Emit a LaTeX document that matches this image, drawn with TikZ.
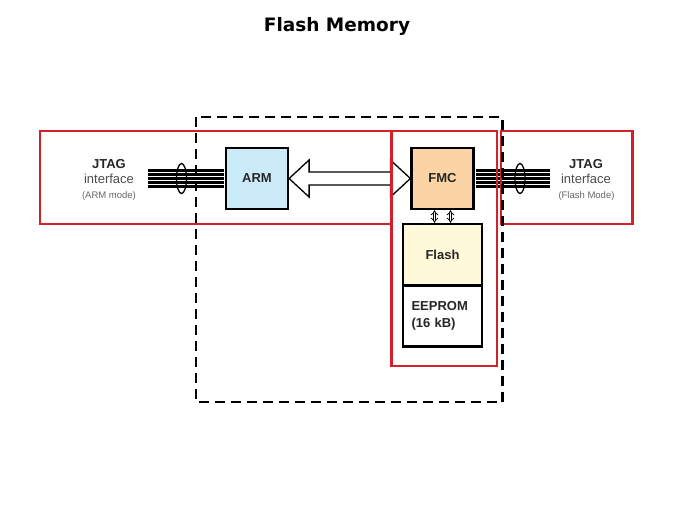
\documentclass[tikz,border=0pt]{standalone}
\usepackage{fontspec}
\setmainfont{Liberation Sans}
\newfontfamily\titlefont{DejaVu Sans}
\usetikzlibrary{positioning, calc, arrows.meta}
\definecolor{framered}{RGB}{212,32,40}
\definecolor{armblue}{RGB}{204,235,249}
\definecolor{fmcorange}{RGB}{251,211,164}
\definecolor{flashyellow}{RGB}{254,250,217}

\begin{document}
\begin{tikzpicture}[x=1pt, y=-1pt,
    blk/.style={draw=black, line width=2.2pt, minimum width=62pt, minimum height=61pt, inner sep=0pt, text=black!85, font=\bfseries\fontsize{13}{15}\selectfont},
    memblk/.style={blk, minimum width=79pt},
    frame/.style={draw=framered, line width=2.2pt},
    bus/.style={line width=2.2pt},
    lbl/.style={anchor=base, text=black!85, font=\fontsize{13}{15}\selectfont},
    ]
        \useasboundingbox (0,0) rectangle (674,506);

        \node[anchor=base, font=\titlefont\bfseries\fontsize{18.5}{22}\selectfont] (title) at (337,31.5) {Flash Memory};

        \node[blk, fill=armblue] (arm) at (257,178.5) {ARM};
        \node[blk, fill=fmcorange] (fmc) at (442.5,178.5) {FMC};
        \node[memblk, fill=flashyellow] (flash) at (442.5,254.5) {Flash};
        \node[memblk, fill=white, align=left, text width=62pt] (eeprom) at (442.5,316) {EEPROM\\[2pt](16 kB)};

        \coordinate (busL) at (148,178.5);
        \coordinate (busR) at (550,178.5);
        \foreach \d in {-8,-4,0,4,8} {
            \draw[bus] ($(busL)+(0,\d)$) -- ($(arm.west)+(-1,\d)$);
            \draw[bus] ($(fmc.east)+(1,\d)$) -- ($(busR)+(0,\d)$);
        }
        \draw[line width=1.3pt] (181.5,178.5) ellipse [x radius=5pt, y radius=15pt];
        \draw[line width=1.3pt] (520,178.5) ellipse [x radius=5pt, y radius=15pt];

        \draw[line width=1.3pt, fill=white, line join=miter] (arm.east) -- ++(20,-18.5) -- ++(0,12) -- ($(fmc.west)+(-20,-6.5)$) -- ++(0,-12) -- (fmc.west) -- ++(-20,18.5) -- ++(0,-12) -- ($(arm.east)+(20,6.5)$) -- ++(0,12) -- cycle;

        \draw[double, double distance=1.8pt, line width=0.8pt, {Implies}-{Implies}] ([xshift=-8pt]fmc.south) -- ([xshift=-8pt]fmc.south |- flash.north);
        \draw[double, double distance=1.8pt, line width=0.8pt, {Implies}-{Implies}] ([xshift=8pt]fmc.south) -- ([xshift=8pt]fmc.south |- flash.north);

        \node[lbl, font=\bfseries\fontsize{13}{15}\selectfont] (jtagA) at (109,168.5) {JTAG};
        \node[lbl, text=black!70] (ifaceA) at (109,183.7) {interface};
        \node[lbl, text=black!60, font=\fontsize{9.5}{11}\selectfont] (modeA) at (109,198.5) {(ARM mode)};
        \node[lbl, font=\bfseries\fontsize{13}{15}\selectfont] (jtagB) at (586,168.5) {JTAG};
        \node[lbl, text=black!70] (ifaceB) at (586,183.7) {interface};
        \node[lbl, text=black!60, font=\fontsize{9.5}{11}\selectfont] (modeB) at (586.5,198.5) {(Flash Mode)};

        \draw[frame] (40,131) rectangle (391.5,224);
        \draw[frame] (391.5,131) rectangle (497,366);
        \draw[frame] (501,131) rectangle (632.5,224);

        \draw[line width=2.2pt, dash pattern=on 10pt off 6pt] (196,117) rectangle (502.5,402);
\end{tikzpicture}
\end{document}
